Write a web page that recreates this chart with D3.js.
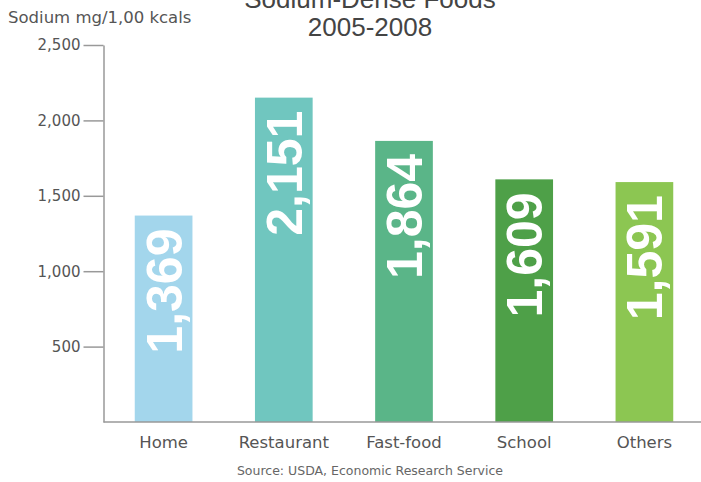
<!DOCTYPE html>
<html lang="en">
<head>
    <meta charset="utf-8" />
    <title>Sodium-Dense Foods 2005-2008</title>
    <script src="https://d3js.org/d3.v7.js"></script>
    <style>
        body, html {
            margin: 0;
            background: #fff;
        }
        .tick text {
            font-family: "DejaVu Sans", sans-serif;
            font-size: 15px;
            fill: #555;
        }
    </style>
</head>
<body>
    <div id="canvas"></div>
</body>
</html>
<script>
    // data
    var categories = ["Home", "Restaurant", "Fast-food", "School", "Others"];
    var sodium = [1369, 2151, 1864, 1609, 1591];
    var yTicks = [500, 1000, 1500, 2000, 2500];
    var barColors = ["#a3d6ec", "#70c6bf", "#5ab588", "#4ea048", "#8cc652"];

    var width = 701, height = 482;

    var svg = d3.select("#canvas")
        .append("svg")
        .attr("width", width)
        .attr("height", height);

    var x = d3.scaleBand()
        .domain(categories)
        .range([103.5, 704.5])
        .paddingInner(0.52)
        .paddingOuter(0.26);

    var y = d3.scaleLinear()
        .domain([0, 2500])
        .range([422, 45]);

    // bars
    svg.selectAll(".bar")
        .data(sodium)
        .enter()
        .append("rect")
        .attr("class", "bar")
        .attr("x", function(d, i) { return x(categories[i]); })
        .attr("y", function(d) { return y(d); })
        .attr("width", x.bandwidth())
        .attr("height", function(d) { return y(0) - y(d); })
        .style("fill", function(d, i) { return barColors[i]; });

    // big rotated value labels
    svg.selectAll(".val")
        .data(sodium)
        .enter()
        .append("text")
        .attr("class", "val")
        .attr("transform", function(d, i) {
            return "translate(" + (x(categories[i]) + x.bandwidth() / 2) + "," + (y(d) + 13) + ") rotate(-90)";
        })
        .attr("text-anchor", "end")
        .attr("dy", "0.36em")
        .style("font-family", "Liberation Sans, Arial, sans-serif")
        .style("font-weight", "bold")
        .style("font-size", "50px")
        .style("fill", "#fff")
        .text(function(d) { return d3.format(",")(d); });

    // y axis
    var yAxis = svg.append("g")
        .attr("transform", "translate(103.5,0)")
        .call(d3.axisLeft(y).tickValues(yTicks).tickFormat(d3.format(",")).tickSize(20).tickSizeOuter(0).tickPadding(3));
    yAxis.select(".domain").attr("stroke", "#999").attr("stroke-width", 1.5);
    yAxis.selectAll(".tick line").attr("stroke", "#999").attr("stroke-width", 1.5);

    // x axis baseline
    svg.append("line")
        .attr("x1", 103.5)
        .attr("x2", width)
        .attr("y1", y(0))
        .attr("y2", y(0))
        .attr("stroke", "#999")
        .attr("stroke-width", 1.5);

    // category labels
    svg.selectAll(".cat")
        .data(categories)
        .enter()
        .append("text")
        .attr("class", "cat")
        .attr("x", function(d) { return x(d) + x.bandwidth() / 2; })
        .attr("y", 448)
        .attr("text-anchor", "middle")
        .style("font-family", "DejaVu Sans, sans-serif")
        .style("font-size", "16.5px")
        .style("fill", "#555")
        .text(function(d) { return d; });

    // titles
    svg.append("text")
        .text("Sodium-Dense Foods")
        .attr("x", 370)
        .attr("y", 8)
        .attr("text-anchor", "middle")
        .style("font-family", "Liberation Sans, Arial, sans-serif")
        .style("font-size", "26px")
        .style("fill", "#444");

    svg.append("text")
        .text("2005-2008")
        .attr("x", 370)
        .attr("y", 36)
        .attr("text-anchor", "middle")
        .style("font-family", "Liberation Sans, Arial, sans-serif")
        .style("font-size", "26px")
        .style("fill", "#444");

    svg.append("text")
        .text("Sodium mg/1,00 kcals")
        .attr("x", 8)
        .attr("y", 23)
        .style("font-family", "DejaVu Sans, sans-serif")
        .style("font-size", "16.5px")
        .style("fill", "#555");

    svg.append("text")
        .text("Source: USDA, Economic Research Service")
        .attr("x", 370)
        .attr("y", 475)
        .attr("text-anchor", "middle")
        .style("font-family", "DejaVu Sans, sans-serif")
        .style("font-size", "12.5px")
        .style("fill", "#666");
</script>
